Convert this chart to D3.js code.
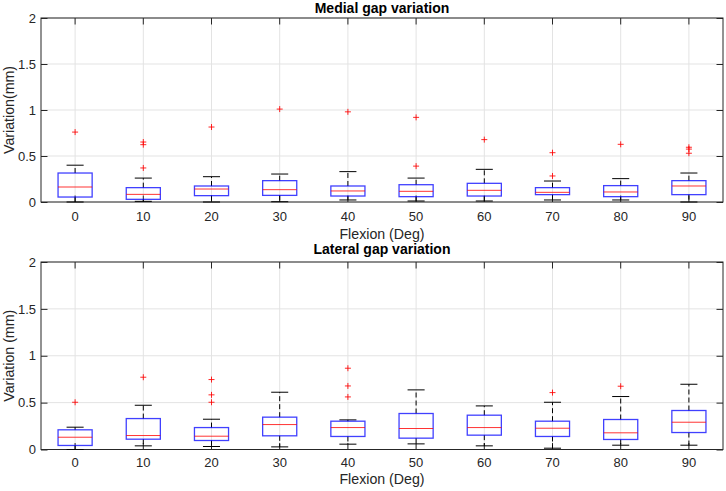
<!DOCTYPE html>
<html>
<head>
<meta charset="utf-8">
<script src="https://cdn.jsdelivr.net/npm/d3@7"></script>
<style>
  html, body { margin: 0; padding: 0; background: #fff; }
  svg { display: block; font-family: "Liberation Sans", Arial, Helvetica, sans-serif; }
</style>
</head>
<body>
<svg id="chart" width="726" height="491"></svg>
<script>
// ---------- data ----------
const categories = ["0","10","20","30","40","50","60","70","80","90"];
const yTicks = [0, 0.5, 1, 1.5, 2];
const yTickLabels = ["0","0.5","1","1.5","2"];

// Medial gap variation
const medialLow     = [0.00, 0.007, 0.00, 0.003, 0.022, 0.011, 0.011, 0.022, 0.022, 0.00];
const medialQ1      = [0.054, 0.029, 0.069, 0.072, 0.065, 0.058, 0.065, 0.080, 0.058, 0.080];
const medialMedian  = [0.163, 0.083, 0.141, 0.134, 0.120, 0.116, 0.127, 0.105, 0.109, 0.174];
const medialQ3      = [0.315, 0.156, 0.174, 0.232, 0.174, 0.188, 0.203, 0.156, 0.178, 0.232];
const medialHigh    = [0.400, 0.260, 0.275, 0.304, 0.330, 0.260, 0.355, 0.228, 0.254, 0.315];
const medialOutliers = [[0.76], [0.652, 0.623, 0.37], [0.815], [1.01], [0.98], [0.92, 0.39], [0.678], [0.536, 0.283], [0.627], [0.595, 0.575, 0.53]];

// Lateral gap variation
const lateralLow     = [0.00, 0.039, 0.032, 0.028, 0.057, 0.060, 0.039, 0.014, 0.046, 0.046];
const lateralQ1      = [0.043, 0.110, 0.096, 0.146, 0.139, 0.121, 0.153, 0.139, 0.107, 0.181];
const lateralMedian  = [0.131, 0.149, 0.142, 0.266, 0.234, 0.224, 0.234, 0.227, 0.178, 0.291];
const lateralQ3      = [0.210, 0.330, 0.234, 0.345, 0.302, 0.384, 0.366, 0.302, 0.320, 0.416];
const lateralHigh    = [0.238, 0.472, 0.323, 0.611, 0.316, 0.636, 0.465, 0.504, 0.565, 0.696];
const lateralOutliers = [[0.504], [0.771], [0.746, 0.583, 0.504], [], [0.867, 0.678, 0.561], [], [], [0.607], [0.675], []];

const panels = [
  { title: "Medial gap variation", ylabel: "Variation(mm)", xlabel: "Flexion (Deg)",
    low: medialLow, q1: medialQ1, med: medialMedian, q3: medialQ3, high: medialHigh, out: medialOutliers,
    top: 18, bottom: 202, titleY: 13.3, tickPad: 10, xlabelY: 239.3 },
  { title: "Lateral gap variation", ylabel: "Variation (mm)", xlabel: "Flexion (Deg)",
    low: lateralLow, q1: lateralQ1, med: lateralMedian, q3: lateralQ3, high: lateralHigh, out: lateralOutliers,
    top: 262, bottom: 449.5, titleY: 254, tickPad: 8, xlabelY: 483.6 }
];

// ---------- drawing ----------
const svg = d3.select("#chart");
const left = 41, right = 723;
const textColor = "#262626";
const axisColor = "#262626";
const gridColor = "#e3e3e3";
const tickLen = 6.5;
const tickFont = 13;
const labelFont = 14.2;

const x = d3.scaleBand().domain(categories).range([left, right]).paddingInner(0.5).paddingOuter(0.25);
const cx = c => x(c) + x.bandwidth() / 2;

panels.forEach(p => {
  const y = d3.scaleLinear().domain([0, 2]).range([p.bottom, p.top]);
  const g = svg.append("g");

  // grid
  g.selectAll(".gx").data(categories).enter().append("line")
    .attr("x1", d => cx(d)).attr("x2", d => cx(d))
    .attr("y1", p.top).attr("y2", p.bottom)
    .attr("stroke", gridColor).attr("stroke-width", 1);
  g.selectAll(".gy").data(yTicks).enter().append("line")
    .attr("x1", left).attr("x2", right)
    .attr("y1", d => y(d)).attr("y2", d => y(d))
    .attr("stroke", gridColor).attr("stroke-width", 1);

  // axes (bottom / left with labels, top / right ticks only), inward ticks
  const xAxis = d3.axisBottom(x).tickSize(-tickLen).tickPadding(p.tickPad);
  const gx = g.append("g").attr("transform", `translate(0,${p.bottom})`).call(xAxis);
  const xAxisTop = d3.axisTop(x).tickSize(-tickLen).tickFormat("");
  const gxt = g.append("g").attr("transform", `translate(0,${p.top})`).call(xAxisTop);
  const yAxis = d3.axisLeft(y).tickValues(yTicks).tickFormat((d, i) => yTickLabels[i]).tickSize(-tickLen).tickPadding(5);
  const gy = g.append("g").attr("transform", `translate(${left},0)`).call(yAxis);
  const yAxisR = d3.axisRight(y).tickValues(yTicks).tickFormat("").tickSize(-tickLen);
  const gyr = g.append("g").attr("transform", `translate(${right},0)`).call(yAxisR);

  [gx, gxt, gy, gyr].forEach(a => {
    a.select(".domain").remove();
    a.selectAll(".tick line").attr("stroke", axisColor).attr("stroke-width", 1);
    a.selectAll(".tick text").attr("fill", textColor)
      .style("font-size", tickFont + "px").style("font-family", "Liberation Sans, Arial, sans-serif");
  });

  // box outline of axes
  g.append("rect").attr("x", left).attr("y", p.top)
    .attr("width", right - left).attr("height", p.bottom - p.top)
    .attr("fill", "none").attr("stroke", axisColor).attr("stroke-width", 1);

  // boxplots
  const bw = x.bandwidth();
  const capW = bw / 2;
  categories.forEach((c, i) => {
    const xc = cx(c);
    // whiskers dashed
    g.append("line").attr("x1", xc).attr("x2", xc)
      .attr("y1", y(p.q3[i])).attr("y2", y(p.high[i]))
      .attr("stroke", "#000").attr("stroke-width", 1).attr("stroke-dasharray", "5,3");
    g.append("line").attr("x1", xc).attr("x2", xc)
      .attr("y1", y(p.q1[i])).attr("y2", y(p.low[i]))
      .attr("stroke", "#000").attr("stroke-width", 1).attr("stroke-dasharray", "5,3");
    // caps
    [p.high[i], p.low[i]].forEach(v => {
      g.append("line").attr("x1", xc - capW / 2).attr("x2", xc + capW / 2)
        .attr("y1", y(v)).attr("y2", y(v))
        .attr("stroke", "#000").attr("stroke-width", 1);
    });
    // box
    g.append("rect").attr("x", xc - bw / 2).attr("y", y(p.q3[i]))
      .attr("width", bw).attr("height", y(p.q1[i]) - y(p.q3[i]))
      .attr("fill", "none").attr("stroke", "#0000ff").attr("stroke-opacity", 0.75).attr("stroke-width", 1.3);
    // median
    g.append("line").attr("x1", xc - bw / 2).attr("x2", xc + bw / 2)
      .attr("y1", y(p.med[i])).attr("y2", y(p.med[i]))
      .attr("stroke", "#ff0000").attr("stroke-opacity", 0.8).attr("stroke-width", 1);
    // outliers '+'
    p.out[i].forEach(v => {
      const yy = y(v), s = 3;
      g.append("path").attr("d", `M${xc - s},${yy}H${xc + s}M${xc},${yy - s}V${yy + s}`)
        .attr("stroke", "#ff0000").attr("stroke-opacity", 0.85).attr("stroke-width", 1).attr("fill", "none");
    });
  });

  // title
  g.append("text").attr("x", (left + right) / 2).attr("y", p.titleY)
    .attr("text-anchor", "middle").attr("fill", "#000")
    .style("font-size", "14px").style("font-weight", "bold")
    .text(p.title);
  // x label
  g.append("text").attr("x", (left + right) / 2).attr("y", p.xlabelY)
    .attr("text-anchor", "middle").attr("fill", textColor)
    .style("font-size", labelFont + "px")
    .text(p.xlabel);
  // y label
  g.append("text")
    .attr("transform", `translate(13.5,${(p.top + p.bottom) / 2}) rotate(-90)`)
    .attr("text-anchor", "middle").attr("fill", textColor)
    .style("font-size", labelFont + "px")
    .text(p.ylabel);
});
</script>
</body>
</html>
